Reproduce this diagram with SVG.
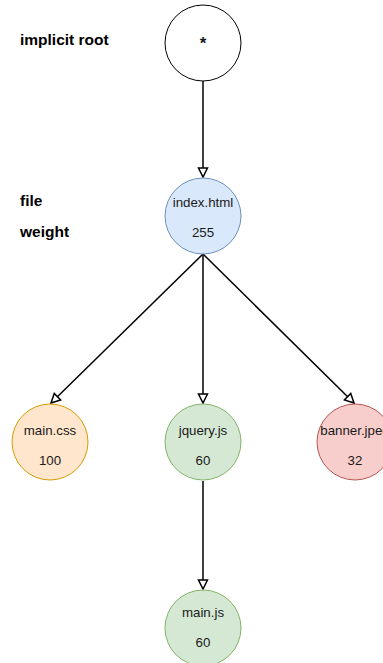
<svg xmlns="http://www.w3.org/2000/svg" width="383" height="663" viewBox="0 0 383 663">
<style>
.lbl{font-family:"Liberation Sans",Arial,sans-serif;font-size:15.5px;font-weight:bold;fill:#000}
.t{font-family:"Liberation Sans",Arial,sans-serif;font-size:13.3px;fill:#1a1a1a;text-anchor:middle}
.e{stroke:#000;stroke-width:1.5;fill:none;marker-end:url(#arr)}
</style>
<defs>
<marker id="arr" markerUnits="userSpaceOnUse" markerWidth="12" markerHeight="12" refX="9" refY="5" orient="auto" viewBox="-1 -1 12 12">
<path d="M0,0.5 L9,5 L0,9.5 Z" fill="#fff" stroke="#000" stroke-width="1.5"/>
</marker>
</defs>
<rect width="383" height="663" fill="#fff"/>
<g id="labels">
<text class="lbl" x="20" y="45">implicit root</text>
<text class="lbl" x="20" y="206">file</text>
<text class="lbl" x="20" y="237">weight</text>
</g>
<g id="connectors">
<line class="e" x1="203" y1="81" x2="203" y2="177"/>
<line class="e" x1="203" y1="254" x2="51" y2="403"/>
<line class="e" x1="203" y1="254" x2="203" y2="403"/>
<line class="e" x1="203" y1="254" x2="354" y2="403"/>
<line class="e" x1="203" y1="481" x2="203" y2="589"/>
</g>
<g id="root">
<circle cx="203" cy="43" r="38" fill="#fff" stroke="#000"/>
<text class="t" x="203" y="49" style="font-size:17px;font-weight:bold">*</text>
</g>
<g id="index">
<circle cx="203" cy="216" r="38" fill="#dae8fc" stroke="#6c8ebf"/>
<text class="t" x="203" y="207">index.html</text>
<text class="t" x="203" y="237">255</text>
</g>
<g id="maincss">
<circle cx="50" cy="442" r="38" fill="#ffe6cc" stroke="#d79b00"/>
<text class="t" x="50" y="435">main.css</text>
<text class="t" x="50" y="465">100</text>
</g>
<g id="jquery">
<circle cx="203" cy="442" r="38" fill="#d5e8d4" stroke="#82b366"/>
<text class="t" x="203" y="435">jquery.js</text>
<text class="t" x="203" y="465">60</text>
</g>
<g id="banner">
<circle cx="355" cy="442" r="38" fill="#f8cecc" stroke="#b85450"/>
<text class="t" x="355" y="435">banner.jpeg</text>
<text class="t" x="355" y="465">32</text>
</g>
<g id="mainjs">
<circle cx="203" cy="628" r="38" fill="#d5e8d4" stroke="#82b366"/>
<text class="t" x="203" y="617">main.js</text>
<text class="t" x="203" y="647">60</text>
</g>
</svg>
